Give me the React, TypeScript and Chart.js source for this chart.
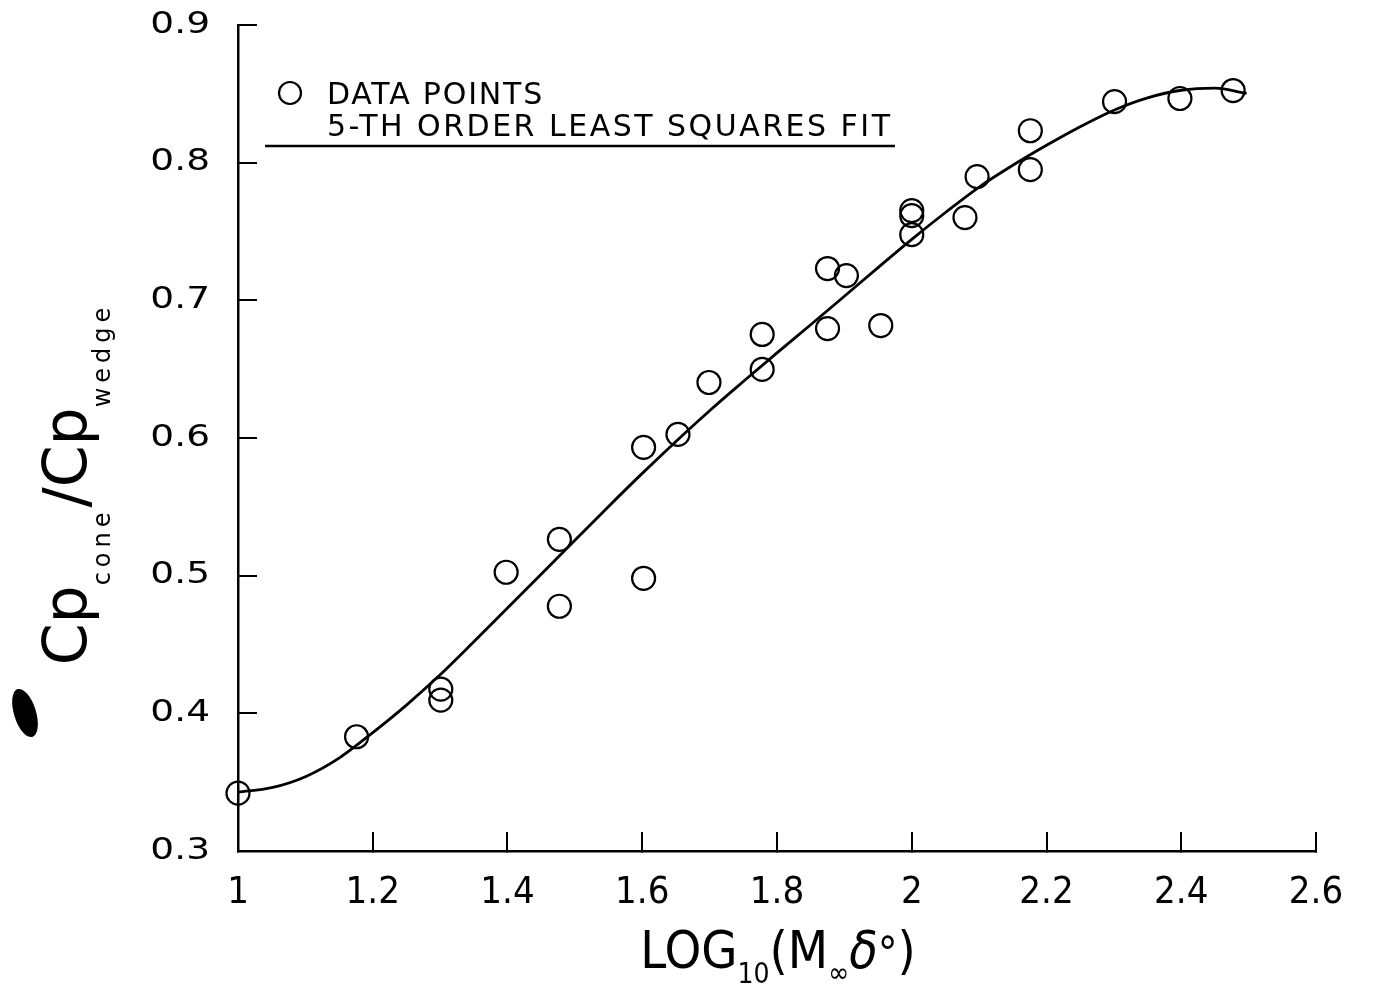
import React, { useEffect, useRef } from "react";
import { Chart, registerables } from "chart.js";

Chart.register(...registerables);

// Measured data points: LOG10(M∞δ°) vs Cp_cone / Cp_wedge
const pointX = [1.0, 1.176, 1.301, 1.301, 1.398, 1.477, 1.477, 1.602, 1.602, 1.653, 1.699, 1.778, 1.778, 1.875, 1.875, 1.903, 1.954, 2.0, 2.0, 2.0, 2.079, 2.097, 2.176, 2.176, 2.301, 2.398, 2.477];
const pointY = [0.342, 0.383, 0.4176, 0.4096, 0.5025, 0.5264, 0.4778, 0.5932, 0.4981, 0.6026, 0.6403, 0.6752, 0.6498, 0.7231, 0.6795, 0.718, 0.6817, 0.7652, 0.7615, 0.7477, 0.7601, 0.7898, 0.8232, 0.7949, 0.8443, 0.8466, 0.8524];

// 5-th order least squares fit
const fitX = [1.0, 1.05, 1.1, 1.15, 1.2, 1.25, 1.3, 1.35, 1.4, 1.45, 1.5, 1.55, 1.6, 1.65, 1.7, 1.75, 1.8, 1.85, 1.9, 1.95, 2.0, 2.05, 2.1, 2.15, 2.2, 2.25, 2.3, 2.35, 2.4, 2.45, 2.497];
const fitY = [0.3428, 0.346, 0.354, 0.3675, 0.386, 0.406, 0.428, 0.452, 0.4765, 0.501, 0.5258, 0.5503, 0.5743, 0.5975, 0.6198, 0.641, 0.6618, 0.6823, 0.703, 0.7238, 0.7443, 0.7638, 0.7823, 0.7981, 0.8126, 0.8261, 0.8381, 0.8471, 0.8526, 0.8541, 0.8503];

const xTickLabels = ["1", "1.2", "1.4", "1.6", "1.8", "2", "2.2", "2.4", "2.6"];
const yTickLabels = ["0.3", "0.4", "0.5", "0.6", "0.7", "0.8", "0.9"];

const legendPointsLabel = "DATA POINTS";
const legendFitLabel = "5-TH ORDER LEAST SQUARES FIT";

const FONT = "'DejaVu Sans', sans-serif";
const NARROW = "'DejaVu Sans Condensed', 'Liberation Sans Narrow', 'DejaVu Sans', sans-serif";
const TICK_LEN = 19;

type Run = { t: string; size: number; dy?: number; ls?: number; italic?: boolean; family?: string };

function runWidth(ctx: CanvasRenderingContext2D, r: Run) {
  ctx.font = `${r.italic ? "italic " : ""}${r.size}px ${r.family || FONT}`;
  (ctx as any).letterSpacing = `${r.ls || 0}px`;
  return ctx.measureText(r.t).width;
}

function drawRuns(ctx: CanvasRenderingContext2D, runs: Run[], x0: number, y0: number) {
  let x = x0;
  for (const r of runs) {
    const w = runWidth(ctx, r);
    ctx.fillText(r.t, x, y0 + (r.dy || 0));
    x += w;
  }
}

function totalWidth(ctx: CanvasRenderingContext2D, runs: Run[]) {
  return runs.reduce((s, r) => s + runWidth(ctx, r), 0);
}

const decorPlugin = {
  id: "decor",
  afterDatasetsDraw(chart: any) {
    // widen the y tick labels (drawn next, at z = 1) around their right anchor
    const ctx = chart.ctx as CanvasRenderingContext2D;
    const ys = chart.scales.y;
    const anchor = ys.right + TICK_LEN - ys.options.ticks.padding;
    ctx.save();
    ctx.translate(anchor, 0);
    ctx.scale(1.25, 1);
    ctx.translate(-anchor, 0);
  },
  afterDraw(chart: any) {
    const ctx = chart.ctx as CanvasRenderingContext2D;
    ctx.restore();
    ctx.save();
    ctx.fillStyle = "#000";
    ctx.strokeStyle = "#000";
    ctx.textBaseline = "alphabetic";
    ctx.textAlign = "left";

    // legend
    ctx.lineWidth = 2.2;
    ctx.beginPath();
    ctx.arc(290, 93, 11, 0, Math.PI * 2);
    ctx.stroke();
    drawRuns(ctx, [{ t: legendPointsLabel, size: 30, ls: 1.8 }], 327, 104);
    drawRuns(ctx, [{ t: legendFitLabel, size: 30, ls: 2.5 }], 327, 136);
    ctx.lineWidth = 2.5;
    ctx.beginPath();
    ctx.moveTo(265, 146);
    ctx.lineTo(895, 146);
    ctx.stroke();

    // x axis title
    const xRuns: Run[] = [
      { t: "LOG", size: 52, family: NARROW },
      { t: "10", size: 28, dy: 15, family: NARROW },
      { t: "(", size: 52, family: NARROW },
      { t: "M", size: 52, family: NARROW },
      { t: "\u221E", size: 28, dy: 14, family: NARROW },
      { t: "\u03B4", size: 52, italic: true, family: NARROW },
      { t: "\u00B0", size: 44, family: NARROW },
      { t: ")", size: 52, family: NARROW },
    ];
    const xw = totalWidth(ctx, xRuns);
    drawRuns(ctx, xRuns, 778 - xw / 2, 968);

    // y axis title (rotated)
    const yRuns: Run[] = [
      { t: "Cp", size: 60 },
      { t: "cone", size: 24, dy: 24, ls: 5 },
      { t: "/", size: 60 },
      { t: "Cp", size: 60 },
      { t: "wedge", size: 24, dy: 24, ls: 5 },
    ];
    const yw = totalWidth(ctx, yRuns);
    ctx.save();
    ctx.translate(86, 484);
    ctx.rotate(-Math.PI / 2);
    drawRuns(ctx, yRuns, -yw / 2, 0);
    ctx.restore();

    // ink blot on the scan
    ctx.beginPath();
    ctx.ellipse(25, 713, 11, 25, -0.3, 0, Math.PI * 2);
    ctx.fill();

    (ctx as any).letterSpacing = "0px";
    ctx.restore();
  },
};

export default function App() {
  const ref = useRef<HTMLCanvasElement | null>(null);

  useEffect(() => {
    if (!ref.current) return;
    const chart = new Chart(ref.current, {
      type: "scatter",
      data: {
        datasets: [
          {
            label: legendFitLabel,
            data: fitX.map((x, i) => ({ x, y: fitY[i] })),
            showLine: true,
            borderColor: "#000",
            borderWidth: 2.8,
            pointRadius: 0,
            cubicInterpolationMode: "monotone",
            clip: false,
          } as any,
          {
            label: legendPointsLabel,
            data: pointX.map((x, i) => ({ x, y: pointY[i] })),
            showLine: false,
            pointRadius: 11.5,
            pointBorderWidth: 2.2,
            pointBorderColor: "#000",
            pointBackgroundColor: "rgba(0,0,0,0)",
            clip: false,
          } as any,
        ],
      },
      options: {
        animation: false,
        responsive: false,
        devicePixelRatio: 1,
        layout: { padding: { left: 0, top: 25, right: 59, bottom: 0 } },
        plugins: { legend: { display: false }, tooltip: { enabled: false } },
        scales: {
          x: {
            type: "linear",
            min: 1,
            max: 2.6,
            ticks: {
              stepSize: 0.2,
              color: "#000",
              padding: 38,
              font: { family: NARROW, size: 38 },
              callback: (v: any) => {
                const l = xTickLabels.find((s) => Math.abs(parseFloat(s) - Number(v)) < 1e-6);
                return l ?? "";
              },
            },
            grid: { drawOnChartArea: false, drawTicks: true, tickLength: -TICK_LEN, color: "#000", lineWidth: 2 },
            border: { display: true, color: "#000", width: 2.5 },
            afterFit: (s: any) => {
              s.height = 141;
              s.paddingLeft = 0;
              s.paddingRight = 0;
            },
          },
          y: {
            type: "linear",
            min: 0.3,
            max: 0.9,
            ticks: {
              stepSize: 0.1,
              color: "#000",
              padding: 47,
              z: 1,
              font: { family: FONT, size: 30 },
              callback: (v: any) => {
                const l = yTickLabels.find((s) => Math.abs(parseFloat(s) - Number(v)) < 1e-6);
                return l ?? "";
              },
            },
            grid: { drawOnChartArea: false, drawTicks: true, tickLength: -TICK_LEN, color: "#000", lineWidth: 2 },
            border: { display: true, color: "#000", width: 2.5 },
            afterFit: (s: any) => {
              s.width = 238;
              s.paddingTop = 0;
              s.paddingBottom = 0;
            },
          },
        },
      },
      plugins: [decorPlugin],
    });
    return () => chart.destroy();
  }, []);

  return (
    <div style={{ position: "absolute", left: 0, top: 0, width: 1375, height: 992, background: "#fff" }}>
      <canvas ref={ref} width={1375} height={992} />
    </div>
  );
}
